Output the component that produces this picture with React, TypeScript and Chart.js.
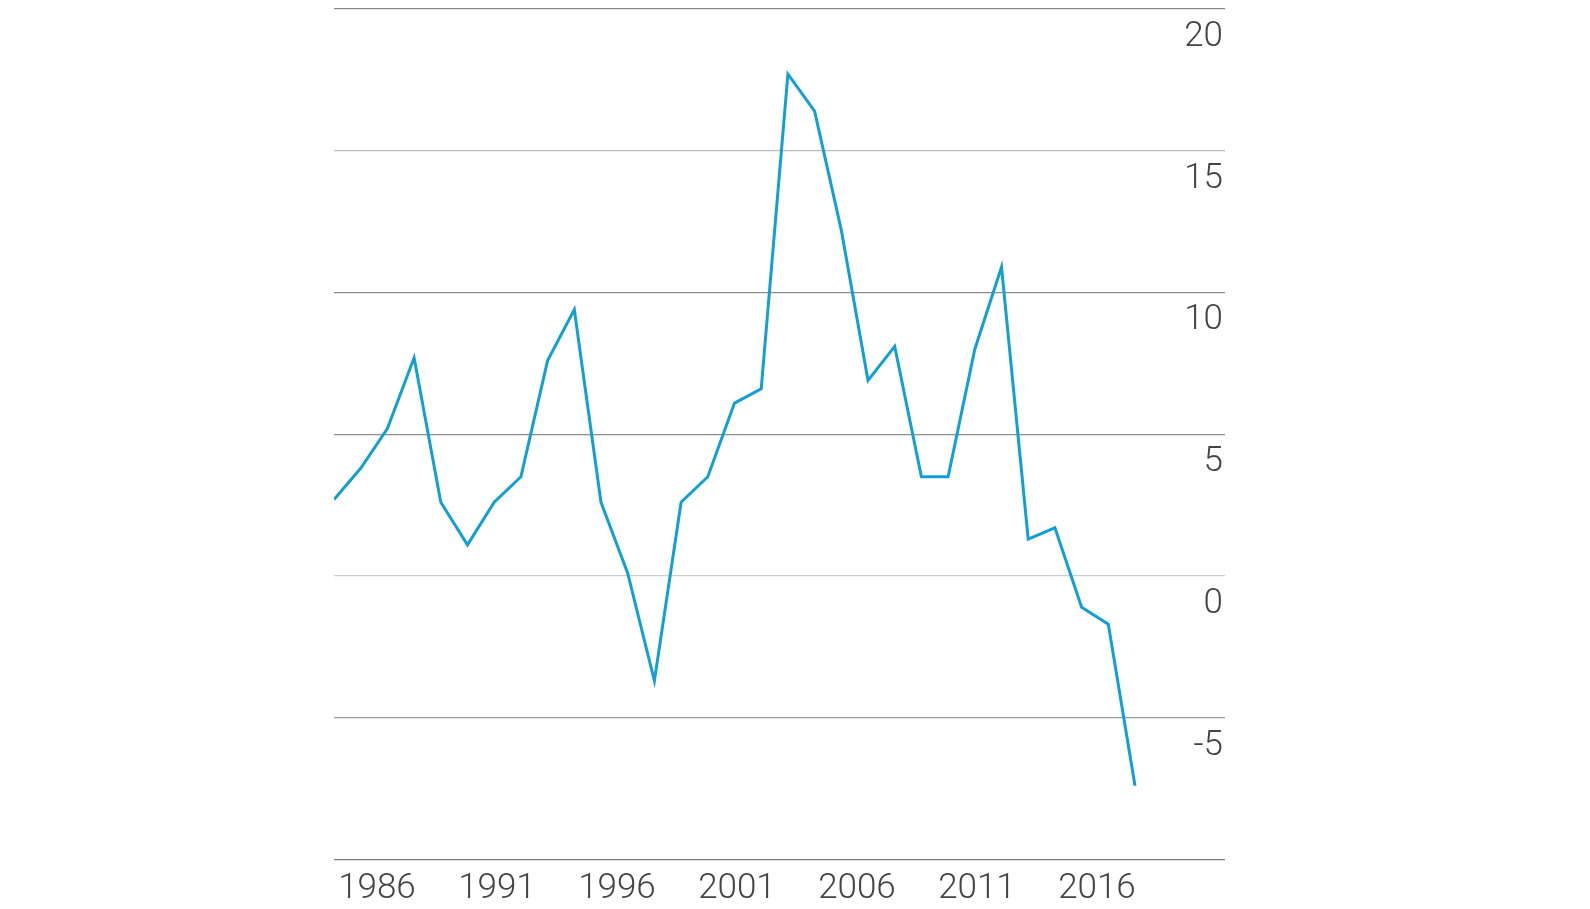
import React, { useEffect, useRef } from 'react';
import { Chart, registerables } from 'chart.js';

Chart.register(...registerables);

// Data years (one point per year)
const years = [
  1986, 1987, 1988, 1989, 1990, 1991, 1992, 1993, 1994, 1995,
  1996, 1997, 1998, 1999, 2000, 2001, 2002, 2003, 2004, 2005,
  2006, 2007, 2008, 2009, 2010, 2011, 2012, 2013, 2014, 2015, 2016,
];

// Series values
const values = [
  2.7, 3.8, 5.2, 7.7, 2.6, 1.1, 2.6, 3.5, 7.6, 9.4,
  2.6, 0.1, -3.7, 2.6, 3.5, 6.1, 6.6, 17.7, 16.4, 12.2,
  6.9, 8.1, 3.5, 3.5, 8.0, 10.9, 1.3, 1.7, -1.1, -1.7, -7.4,
];

// Bottom axis labels
const xTickLabels = ['1986', '1991', '1996', '2001', '2006', '2011', '2016'];

// Right axis tick values
const yTickValues = [20, 15, 10, 5, 0, -5, -10];
const yTickColors = ['#8a8a8a', '#bdbdbd', '#8c8c8c', '#8c8c8c', '#cfcfcf', '#9a9a9a', '#7c7c7c'];

const FAMILY = 'Roboto, "Noto Sans", sans-serif';
const TEXT_COLOR = '#444444';
const LINE_COLOR = '#129fd4';

export default function App() {
  const ref = useRef<HTMLCanvasElement | null>(null);

  useEffect(() => {
    if (!ref.current) return;
    const chart = new Chart(ref.current, {
      type: 'line',
      data: {
        datasets: [
          {
            data: values.map((v, i) => ({ x: years[i], y: v })),
            borderColor: LINE_COLOR,
            borderWidth: 3,
            pointRadius: 0,
            tension: 0,
            fill: false,
            xAxisID: 'x',
            yAxisID: 'y',
          },
        ],
      },
      options: {
        responsive: false,
        animation: false,
        layout: { padding: { left: 334, right: 365, top: 9, bottom: -9.1 } },
        plugins: { legend: { display: false }, tooltip: { enabled: false } },
        scales: {
          x: {
            type: 'linear',
            display: false,
            min: 1986,
            max: 2019.37,
          },
          xl: {
            type: 'linear',
            position: 'bottom',
            min: -0.358,
            max: 7.067,
            grid: { display: false, drawTicks: false },
            border: { display: false },
            afterBuildTicks: (axis: any) => {
              axis.ticks = xTickLabels.map((_, i) => ({ value: i }));
            },
            ticks: {
              autoSkip: false,
              maxRotation: 0,
              padding: 8.3,
              color: TEXT_COLOR,
              font: { family: FAMILY, size: 35, weight: 300 as any },
              callback: (v: any) => xTickLabels[v as number] ?? '',
            },
          },
          y: {
            type: 'linear',
            position: 'right',
            min: -10,
            max: 20,
            afterBuildTicks: (axis: any) => {
              axis.ticks = yTickValues.map((v) => ({ value: v }));
            },
            grid: {
              drawTicks: false,
              lineWidth: 1.2,
              color: (ctx: any) => {
                const idx = yTickValues.indexOf(ctx.tick?.value);
                return idx >= 0 ? yTickColors[idx] : '#999';
              },
            },
            border: { display: false },
            ticks: {
              mirror: true,
              padding: -2,
              labelOffset: 28,
              color: TEXT_COLOR,
              font: { family: FAMILY, size: 35, weight: 300 as any, lineHeight: 0.5 },
              callback: (v: any) => (v === -10 ? '' : String(v)),
            },
          },
        },
      },
    });
    return () => chart.destroy();
  }, []);

  return (
    <div style={{ position: 'fixed', left: 0, top: 0, width: 1590, height: 909, background: '#fff' }}>
      <canvas ref={ref} width={1590} height={909} style={{ display: 'block' }} />
    </div>
  );
}
